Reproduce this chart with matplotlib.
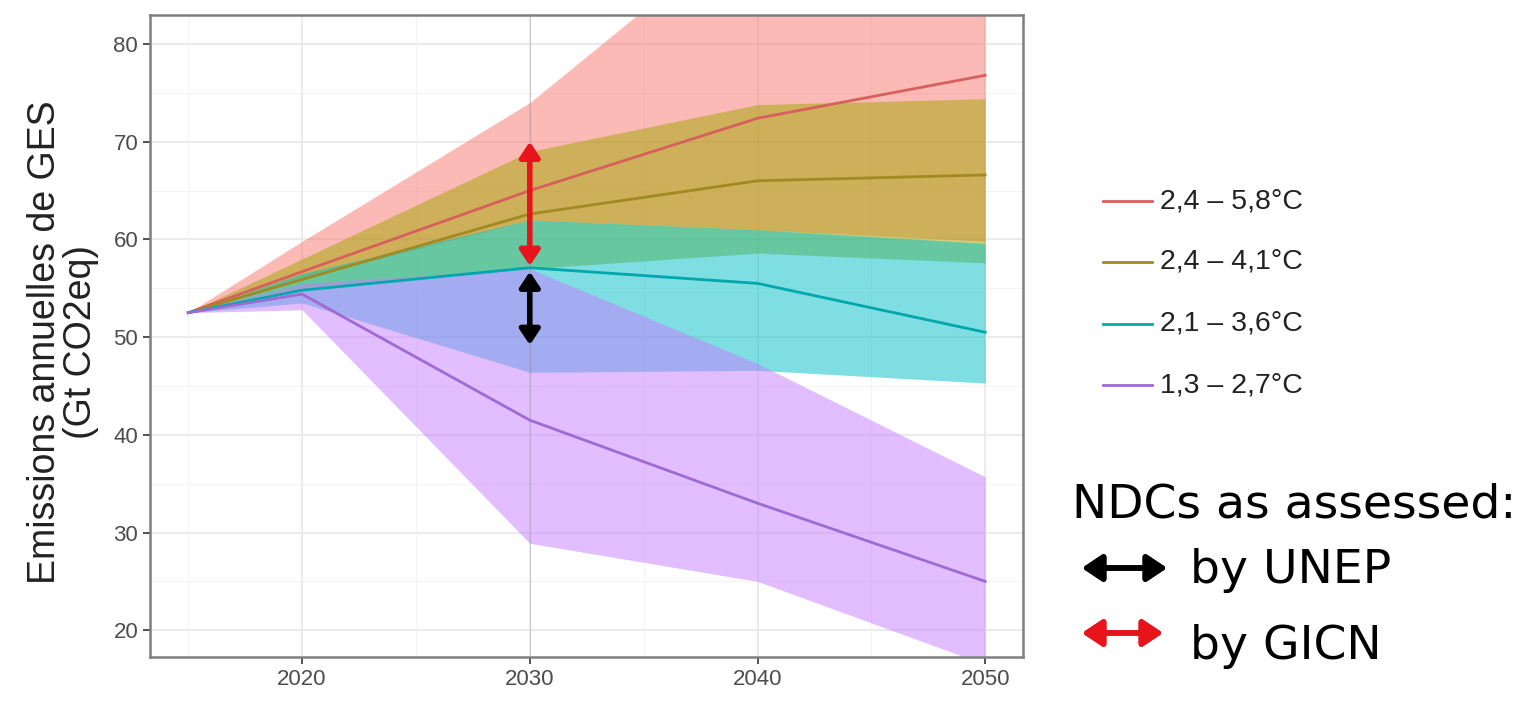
import matplotlib
matplotlib.use("Agg")
import matplotlib.pyplot as plt
from matplotlib.lines import Line2D

# scenario years
years = [2015, 2020, 2030, 2040, 2050]

# median + band (low/high) per warming scenario, Gt CO2eq
red_med = [52.5, 56.7, 65.0, 72.4, 76.8]
red_low = [52.5, 56.0, 62.0, 61.0, 59.8]
red_high = [52.5, 59.8, 74.0, 93.0, 100.0]

olive_med = [52.5, 55.9, 62.6, 66.0, 66.6]
olive_low = [52.5, 55.0, 57.0, 58.6, 57.6]
olive_high = [52.5, 58.0, 69.0, 73.8, 74.4]

teal_med = [52.5, 54.8, 57.1, 55.5, 50.5]
teal_low = [52.5, 53.5, 46.4, 46.6, 45.3]
teal_high = [52.5, 56.5, 62.0, 61.0, 59.6]

purple_med = [52.5, 54.4, 41.5, 33.0, 25.0]
purple_low = [52.5, 52.8, 28.9, 25.0, 16.5]
purple_high = [52.5, 55.5, 57.0, 47.3, 35.7]

labels = ["2,4 – 5,8°C", "2,4 – 4,1°C", "2,1 – 3,6°C", "1,3 – 2,7°C"]
fill_colors = ["#F8766D", "#A3A500", "#00BFC4", "#C77CFF"]
line_colors = ["#D8605C", "#A08A22", "#00A8AE", "#9E6AD4"]

# NDC ranges for 2030
ndc_year = 2030
unep_range = [49.2, 56.7]
gicn_range = [57.3, 70.0]

W, H = 1521, 701
fig = plt.figure(figsize=(W / 100, H / 100), dpi=100)
ax = fig.add_axes([150 / W, 1 - 657 / H, (1023 - 150) / W, (657 - 15) / H])

# grid like theme_bw
for v in range(25, 85, 10):
    ax.axhline(v, color="#F4F4F4", lw=0.8, zorder=0)
for v in range(20, 85, 10):
    ax.axhline(v, color="#EBEBEB", lw=1.5, zorder=0)
for t in [2015, 2025, 2035, 2045]:
    ax.axvline(t, color="#F4F4F4", lw=0.8, zorder=0)
for t in [2020, 2030, 2040, 2050]:
    ax.axvline(t, color="#EBEBEB", lw=1.5, zorder=0)

bands = [
    (red_low, red_high, red_med),
    (olive_low, olive_high, olive_med),
    (teal_low, teal_high, teal_med),
    (purple_low, purple_high, purple_med),
]
for (lo, hi, _), c in zip(bands, fill_colors):
    ax.fill_between(years, lo, hi, color=c, alpha=0.5, lw=0, zorder=1)
for (_, _, med), c in zip(bands, line_colors):
    ax.plot(years, med, color=c, lw=2, zorder=2)

ax.axvline(ndc_year, color="#999999", lw=0.8, alpha=0.4, zorder=3)

head = "<|-|>,head_length=0.45,head_width=0.3"
ax.annotate("", xy=(ndc_year, gicn_range[1]), xytext=(ndc_year, gicn_range[0]),
            arrowprops=dict(arrowstyle=head, color="#E8141B", lw=4,
                            mutation_scale=20, shrinkA=0, shrinkB=0), zorder=4)
ax.annotate("", xy=(ndc_year, unep_range[1]), xytext=(ndc_year, unep_range[0]),
            arrowprops=dict(arrowstyle=head, color="black", lw=4,
                            mutation_scale=20, shrinkA=0, shrinkB=0), zorder=4)

ax.set_xlim(2013.32, 2051.66)
ax.set_ylim(17.26, 82.97)
ax.set_xticks([2020, 2030, 2040, 2050])
ax.set_yticks([20, 30, 40, 50, 60, 70, 80])
ax.tick_params(labelsize=16, labelcolor="#4D4D4D", color="#333333",
               length=5, width=1.2)
for s in ax.spines.values():
    s.set_color("#7F7F7F")
    s.set_linewidth(1.8)
ax.set_ylabel("Emissions annuelles de GES\n(Gt CO2eq)", fontsize=27,
              color="#222222", family="Liberation Sans", linespacing=1.0)
ax.yaxis.set_label_coords(-0.058, 0.49)
for lab in ax.get_xticklabels() + ax.get_yticklabels():
    lab.set_family("Liberation Sans")

# scenario legend
rows = [201, 262, 324, 385]
for y, lab, c in zip(rows, labels, line_colors):
    fig.add_artist(Line2D([1103 / W, 1152 / W], [1 - y / H, 1 - y / H],
                          color=c, lw=2))
    fig.text(1160 / W, 1 - y / H, lab, fontsize=20.5, va="center",
             family="Liberation Sans", color="#222222")

# NDC key
fig.text(1072 / W, 1 - 517 / H, "NDCs as assessed:", fontsize=34,
         va="baseline", family="DejaVu Sans")
fig.text(1190 / W, 1 - 583 / H, "by UNEP", fontsize=34, va="baseline",
         family="DejaVu Sans")
fig.text(1190 / W, 1 - 659 / H, "by GICN", fontsize=34, va="baseline",
         family="DejaVu Sans")
head2 = "<|-|>,head_length=0.6,head_width=0.4"
fig.add_artist(plt.annotate("", xy=(1167 / W, 1 - 568 / H), xytext=(1082 / W, 1 - 568 / H),
                            xycoords="figure fraction", textcoords="figure fraction",
                            arrowprops=dict(arrowstyle=head2, color="black", lw=4,
                                            mutation_scale=20, shrinkA=0, shrinkB=0)))
fig.add_artist(plt.annotate("", xy=(1163 / W, 1 - 633 / H), xytext=(1082 / W, 1 - 633 / H),
                            xycoords="figure fraction", textcoords="figure fraction",
                            arrowprops=dict(arrowstyle=head2, color="#E8141B", lw=4,
                                            mutation_scale=20, shrinkA=0, shrinkB=0)))

fig.savefig("out.png", dpi=100)
